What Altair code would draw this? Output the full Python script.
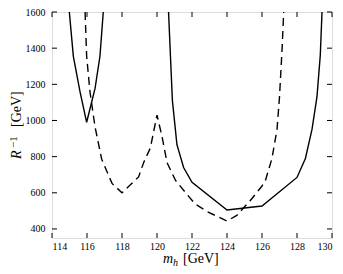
import altair as alt
import pandas as pd

# ---- data ----
x_ticks = [114, 116, 118, 120, 122, 124, 126, 128, 130]
y_ticks = [400, 600, 800, 1000, 1200, 1400, 1600]

solid_a_x = [114.99, 115.22, 115.6, 115.98, 116.46, 116.74, 116.93]
solid_a_y = [1600, 1355, 1159, 990, 1177, 1355, 1600]

solid_b_x = [120.66, 120.78, 120.88, 121.14, 121.52, 122.0, 124.0, 126.0, 128.0,
             128.48, 128.86, 129.14, 129.33, 129.43]
solid_b_y = [1600, 1330, 1110, 866, 740, 658, 505, 527, 685,
             790, 952, 1130, 1360, 1600]

dashed_x = [115.89, 115.98, 116.17, 116.46, 116.84, 117.43, 118.0, 118.95, 119.24,
            119.62, 120.0, 120.29, 120.57, 121.05, 121.62, 122.19, 122.95, 124.0,
            124.56, 125.31, 125.98, 126.19, 126.57, 126.86, 127.0, 127.15, 127.24]
dashed_y = [1600, 1355, 1159, 964, 786, 652, 600, 688, 768,
            848, 1030, 910, 768, 670, 602, 537, 492, 444,
            475, 555, 635, 666, 790, 952, 1130, 1400, 1600]

# ---- tables ----
solid_df = pd.concat([
    pd.DataFrame({"x": solid_a_x, "y": solid_a_y, "seg": "a",
                  "i": range(len(solid_a_x))}),
    pd.DataFrame({"x": solid_b_x, "y": solid_b_y, "seg": "b",
                  "i": range(len(solid_b_x))}),
])
dashed_df = pd.DataFrame({"x": dashed_x, "y": dashed_y, "i": range(len(dashed_x))})
xt_df = pd.DataFrame({"x": x_ticks})
yt_df = pd.DataFrame({"y": y_ticks})

W, H = 280, 226
FONT = "Liberation Serif"

xscale = alt.Scale(domain=[114, 130], nice=False, zero=False)
yscale = alt.Scale(domain=[350, 1600], nice=False, zero=False)
xaxis = alt.Axis(title="", values=x_ticks, ticks=False, tickSize=0, domain=False,
                 grid=False, labelFont=FONT, labelFontSize=10, labelColor="black",
                 labelPadding=3, format="d")
yaxis = alt.Axis(title="", values=y_ticks, ticks=False, tickSize=0, domain=False,
                 grid=False, labelFont=FONT, labelFontSize=10, labelColor="black",
                 labelPadding=7, format="d")

X = alt.X("x:Q", scale=xscale, axis=xaxis)
Y = alt.Y("y:Q", scale=yscale, axis=yaxis)

solid = alt.Chart(solid_df).mark_line(color="black", strokeWidth=1.4, clip=True).encode(
    x=X, y=Y, detail="seg:N", order="i:Q")
dashed = alt.Chart(dashed_df).mark_line(color="black", strokeWidth=1.4, clip=True,
                                        strokeDash=[8, 5]).encode(
    x=X, y=Y, order="i:Q")

tick_style = dict(color="black", strokeWidth=1)
t_bottom = alt.Chart(xt_df).mark_rule(**tick_style).encode(
    x=X, y=alt.value(H), y2=alt.value(H - 5))
t_top = alt.Chart(xt_df).mark_rule(**tick_style).encode(
    x=X, y=alt.value(0), y2=alt.value(5))
t_left = alt.Chart(yt_df).mark_rule(**tick_style).encode(
    y=Y, x=alt.value(0), x2=alt.value(5))
t_right = alt.Chart(yt_df).mark_rule(**tick_style).encode(
    y=Y, x=alt.value(W), x2=alt.value(W - 5))


def label(txt, x, y, size, italic=False, angle=0):
    kw = dict(font=FONT, fontSize=size, color="black", align="left",
              baseline="alphabetic")
    if italic:
        kw["fontStyle"] = "italic"
    if angle:
        kw["angle"] = angle
    return alt.Chart(pd.DataFrame({"t": [txt]})).mark_text(**kw).encode(
        text="t:N", x=alt.value(x), y=alt.value(y))


titles = [
    label("m", 111, 251, 14, italic=True),
    label("h", 121, 254, 10, italic=True),
    label("[GeV]", 131, 251, 14),
    label("R", -31, 147, 14, italic=True, angle=270),
    label("\u22121", -35, 136, 11, angle=270),
    label("[GeV]", -31, 115, 14, angle=270),
]

chart = alt.layer(solid, dashed, t_bottom, t_top, t_left, t_right, *titles).properties(
    width=W, height=H,
    autosize=alt.AutoSizeParams(type="none"),
    padding={"left": 44, "top": 4, "right": 3, "bottom": 35},
).configure_view(stroke="black", strokeWidth=1.5).configure(background="white")

chart.save("out.html", embed_options={"renderer": "svg", "actions": False})
